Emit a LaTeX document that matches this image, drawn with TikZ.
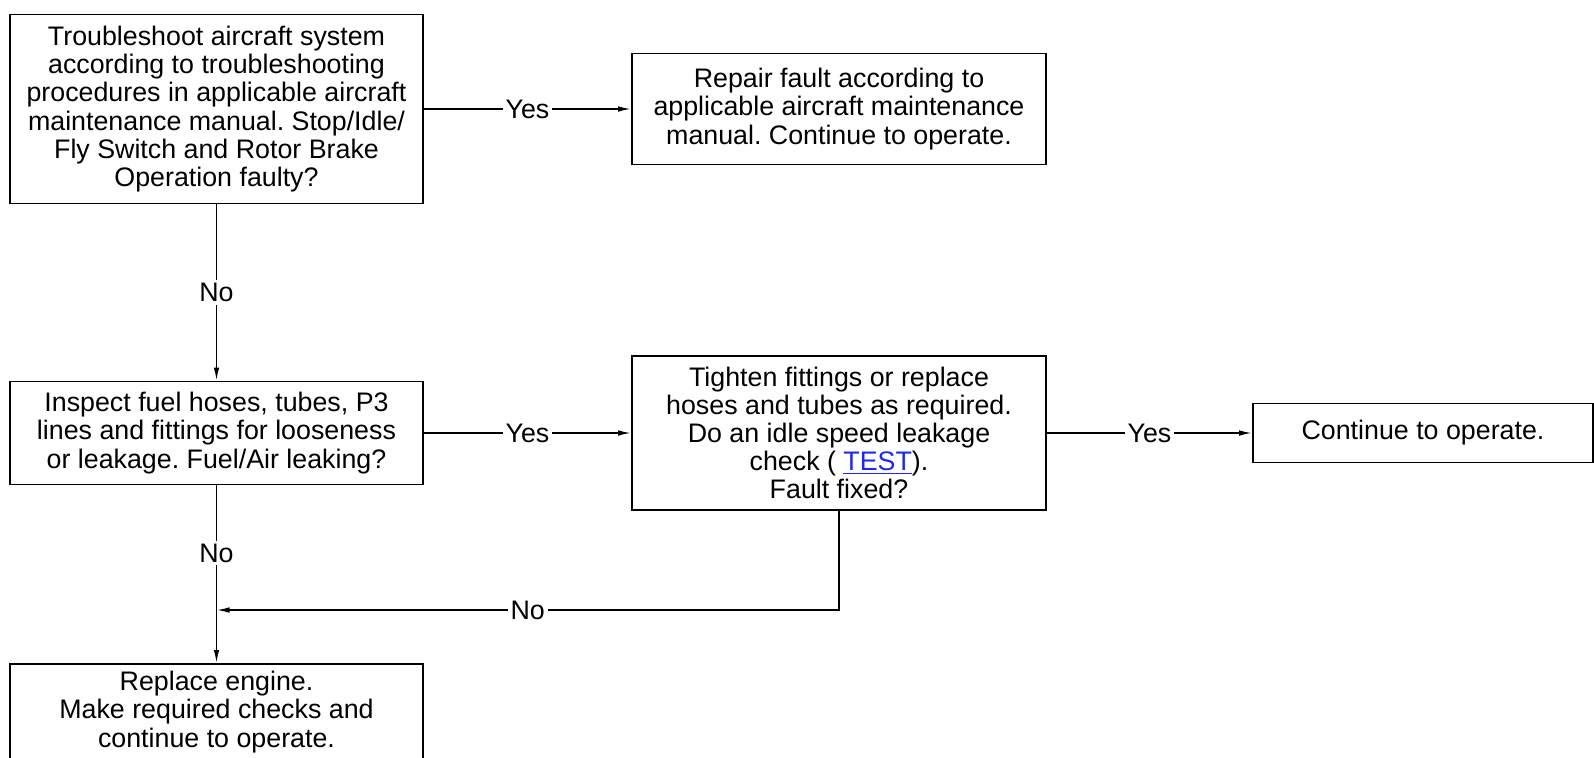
\documentclass[tikz,border=0pt]{standalone}
\usepackage{fontspec}
\setmainfont{Liberation Sans}
\usetikzlibrary{arrows.meta,positioning}
\definecolor{linkblue}{RGB}{30,40,235}
\frenchspacing

\tikzset{
  stepbox/.style={draw, line width=0.9pt, align=center, inner sep=0pt,
    font=\fontsize{13.4}{14.1}\selectfont},
  flow/.style={line width=0.8pt, -{Latex[length=6.5pt,width=2.8pt]}},
  lbl/.style={fill=white, inner sep=1.5pt, font=\fontsize{13.4}{14.1}\selectfont}
}

\begin{document}
\begin{tikzpicture}[x=0.5pt,y=-0.5pt]
        \clip (0,0) rectangle (1594,757);
        % left column: checks
        \node[stepbox, minimum width=206.5pt, minimum height=94.5pt] (trbl) at (216.5,109)
          {Troubleshoot aircraft system\\according to troubleshooting\\procedures in applicable aircraft\\maintenance manual. Stop/Idle/\\Fly Switch and Rotor Brake\\Operation faulty?};
        \node[stepbox, minimum width=206.5pt, minimum height=51.5pt] (insp) at (216.5,433)
          {Inspect fuel hoses, tubes, P3\\lines and fittings for looseness\\or leakage. Fuel/Air leaking?};
        \node[stepbox, minimum width=206.5pt, minimum height=48pt] (eng) at (216.5,712)
          {Replace engine.\\Make required checks and\\continue to operate.};
        % middle and right column: repairs
        \node[stepbox, minimum width=207pt, minimum height=55.5pt] (rep) at (839,109)
          {Repair fault according to\\applicable aircraft maintenance\\manual. Continue to operate.};
        \node[stepbox, minimum width=207pt, minimum height=77pt] (fix) at (839,433)
          {Tighten fittings or replace\\hoses and tubes as required.\\Do an idle speed leakage\\check ( \textcolor{linkblue}{\underline{TEST}}).\\Fault fixed?};
        \node[stepbox, minimum width=170pt, minimum height=29.5pt] (cont) at (1423,433)
          {Continue to operate.};
        \coordinate (jn) at (216.5,610);
        % connectors
        \draw[flow] (trbl) -- node[lbl]{Yes} (rep);
        \draw[flow] (trbl) -- node[lbl]{No} (insp);
        \draw[flow] (insp) -- node[lbl]{Yes} (fix);
        \draw[flow] (fix) -- node[lbl]{Yes} (cont);
        \draw[flow] (insp) -- node[lbl, pos=0.38]{No} (eng);
        \draw[flow] (fix.south) |- node[lbl, pos=0.75]{No} (jn);
      \end{tikzpicture}
\end{document}
